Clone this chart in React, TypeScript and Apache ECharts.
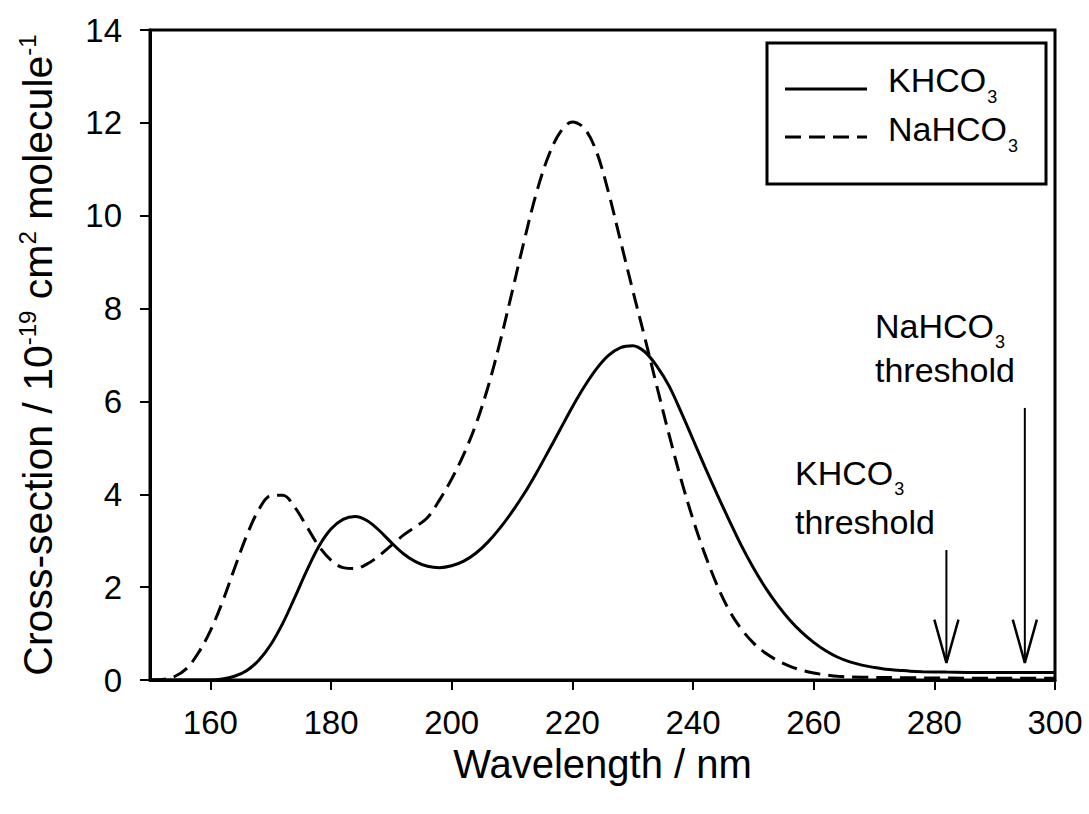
import React, { useEffect, useRef } from "react";
import * as echarts from "echarts";

const FONT = 'Arial, "Liberation Sans", Helvetica, sans-serif';

// Tick labels
const xTickValues = [160, 180, 200, 220, 240, 260, 280, 300];

// KHCO3 (solid)
const khco3Wavelength = [150, 156, 160, 162, 164, 166, 168, 170, 172, 174, 176, 178, 180, 182, 184, 186, 188, 190, 192, 194, 196, 198, 200, 202, 204, 206, 208, 210, 212, 214, 216, 218, 220, 222, 224, 226, 228, 230, 232, 234, 236, 238, 240, 242, 244, 246, 248, 250, 252, 254, 256, 258, 260, 262, 264, 266, 268, 270, 272, 274, 276, 278, 282, 290, 300];
const khco3Cross = [0, 0, 0, 0.02, 0.08, 0.2, 0.42, 0.76, 1.22, 1.78, 2.36, 2.88, 3.25, 3.46, 3.52, 3.43, 3.22, 2.96, 2.72, 2.55, 2.45, 2.42, 2.46, 2.56, 2.73, 2.97, 3.27, 3.62, 4.01, 4.45, 4.92, 5.4, 5.88, 6.32, 6.7, 6.99, 7.16, 7.2, 7.07, 6.76, 6.34, 5.78, 5.18, 4.58, 4.0, 3.44, 2.9, 2.42, 1.99, 1.62, 1.3, 1.03, 0.81, 0.63, 0.49, 0.39, 0.32, 0.27, 0.23, 0.21, 0.19, 0.18, 0.17, 0.16, 0.16];

// NaHCO3 (dashed)
const nahco3Wavelength = [150, 152, 154, 156, 158, 160, 162, 164, 166, 168, 170, 172, 174, 176, 178, 180, 182, 184, 186, 188, 190, 192, 194, 196, 198, 200, 202, 204, 206, 208, 210, 212, 214, 216, 218, 220, 222, 224, 226, 228, 230, 232, 234, 236, 238, 240, 242, 244, 246, 248, 250, 252, 254, 256, 258, 260, 262, 264, 268, 275, 285, 300];
const nahco3Cross = [0, 0.01, 0.07, 0.24, 0.58, 1.06, 1.68, 2.4, 3.1, 3.66, 3.97, 3.98, 3.72, 3.3, 2.88, 2.58, 2.42, 2.4, 2.5, 2.68, 2.9, 3.12, 3.3, 3.5, 3.88, 4.33, 4.86, 5.5, 6.3, 7.27, 8.35, 9.45, 10.47, 11.27, 11.8, 12.02, 11.88, 11.38, 10.5, 9.45, 8.4, 7.38, 6.33, 5.3, 4.33, 3.46, 2.7, 2.04, 1.5, 1.1, 0.8, 0.58, 0.42, 0.3, 0.21, 0.15, 0.11, 0.08, 0.06, 0.05, 0.04, 0.04];

// Threshold arrows (wavelength, top of shaft, tip)
const thresholdNames = ["KHCO3", "NaHCO3"];
const thresholdWavelength = [282, 295];
const thresholdArrowTop = [2.8, 5.86];
const arrowTip = 0.37;
const arrowHeadHalfWidth = 2.0;
const arrowHeadHeight = 0.93;

const pairs = (xs: number[], ys: number[]) => xs.map((x, i) => [x, ys[i]]);

const subRich = {
  m: { fontSize: 34, fontFamily: FONT, color: "#000" },
  s: { fontSize: 18, fontFamily: FONT, color: "#000", padding: [33, 0, 0, 1] },
  tk: { fontSize: 34, fontFamily: FONT, color: "#000", lineHeight: 47 },
  tn: { fontSize: 34, fontFamily: FONT, color: "#000", lineHeight: 38 },
};

export default function App() {
  const ref = useRef<HTMLDivElement>(null);

  useEffect(() => {
    document.body.style.margin = "0";
    if (!ref.current) return;
    const chart = echarts.init(ref.current, undefined, { renderer: "svg" });

    const arrowSeries: any[] = [];
    thresholdWavelength.forEach((w, i) => {
      arrowSeries.push({
        name: thresholdNames[i] + " arrow",
        type: "line",
        data: [[w, thresholdArrowTop[i]], [w, arrowTip]],
        symbol: "none",
        silent: true,
        lineStyle: { color: "#000", width: 2 },
        z: 3,
      });
      arrowSeries.push({
        name: thresholdNames[i] + " head",
        type: "line",
        data: [
          [w - arrowHeadHalfWidth, arrowTip + arrowHeadHeight],
          [w, arrowTip],
          [w + arrowHeadHalfWidth, arrowTip + arrowHeadHeight],
        ],
        symbol: "none",
        silent: true,
        lineStyle: { color: "#000", width: 2.5 },
        z: 3,
      });
    });

    const text = (x: number, y: number, t: string, va: string = "middle") => ({
      type: "text",
      x,
      y,
      z: 11,
      style: {
        text: t,
        rich: subRich,
        fontSize: 34,
        fontFamily: FONT,
        fill: "#000",
        align: "left",
        verticalAlign: va,
      },
    });

    chart.setOption({
      animation: false,
      backgroundColor: "#fff",
      grid: {
        left: 150,
        right: 34,
        top: 30,
        bottom: 134,
        show: true,
        borderColor: "#000",
        borderWidth: 3,
        backgroundColor: "transparent",
      },
      xAxis: {
        type: "value",
        min: 150,
        max: 300,
        name: "Wavelength / nm",
        nameLocation: "middle",
        nameGap: 64,
        nameTextStyle: { fontSize: 40, fontFamily: FONT, color: "#000" },
        axisLine: { show: true, lineStyle: { color: "#000", width: 3 } },
        axisTick: {
          show: true,
          customValues: xTickValues,
          length: 10,
          lineStyle: { color: "#000", width: 2 },
        },
        axisLabel: {
          customValues: xTickValues,
          fontSize: 33,
          fontFamily: FONT,
          color: "#000",
          margin: 26,
        },
        splitLine: { show: false },
      },
      yAxis: {
        type: "value",
        min: 0,
        max: 14,
        interval: 2,
        name: "{a|Cross-section / 10}{s|-19}{a| cm}{s|2}{a| molecule}{s|-1}",
        nameLocation: "middle",
        nameGap: 89,
        nameRotate: 90,
        nameTextStyle: {
          color: "#000",
          rich: {
            a: { fontSize: 41, fontFamily: FONT, color: "#000" },
            s: { fontSize: 24, fontFamily: FONT, color: "#000", padding: [0, 0, 22, 0] },
          },
        },
        axisLine: { show: true, lineStyle: { color: "#000", width: 3 } },
        axisTick: { show: true, length: 10, lineStyle: { color: "#000", width: 2 } },
        axisLabel: { fontSize: 33, fontFamily: FONT, color: "#000", margin: 28 },
        splitLine: { show: false },
      },
      series: [
        {
          name: "KHCO3",
          type: "line",
          data: pairs(khco3Wavelength, khco3Cross),
          symbol: "none",
          smooth: 0.35,
          lineStyle: { color: "#000", width: 3, type: "solid" },
          z: 2,
        },
        {
          name: "NaHCO3",
          type: "line",
          data: pairs(nahco3Wavelength, nahco3Cross),
          symbol: "none",
          smooth: 0.35,
          lineStyle: { color: "#000", width: 3, type: [16, 8] },
          z: 2,
        },
        ...arrowSeries,
      ],
      graphic: [
        {
          type: "rect",
          shape: { x: 767, y: 43, width: 279, height: 141 },
          style: { fill: "#fff", stroke: "#000", lineWidth: 3 },
          z: 10,
        },
        {
          type: "line",
          shape: { x1: 785, y1: 89, x2: 867, y2: 89 },
          style: { stroke: "#000", lineWidth: 3 },
          z: 11,
        },
        {
          type: "line",
          shape: { x1: 785, y1: 137, x2: 867, y2: 137 },
          style: { stroke: "#000", lineWidth: 3, lineDash: [16, 8] },
          z: 11,
        },
        text(888, 80, "{m|KHCO}{s|3}"),
        text(888, 129, "{m|NaHCO}{s|3}"),
        text(795, 447, "{m|KHCO}{s|3}\n{tk|threshold}", "top"),
        text(875, 300, "{m|NaHCO}{s|3}\n{tn|threshold}", "top"),
      ],
    });

    return () => chart.dispose();
  }, []);

  return <div ref={ref} style={{ width: 1089, height: 814 }} />;
}
